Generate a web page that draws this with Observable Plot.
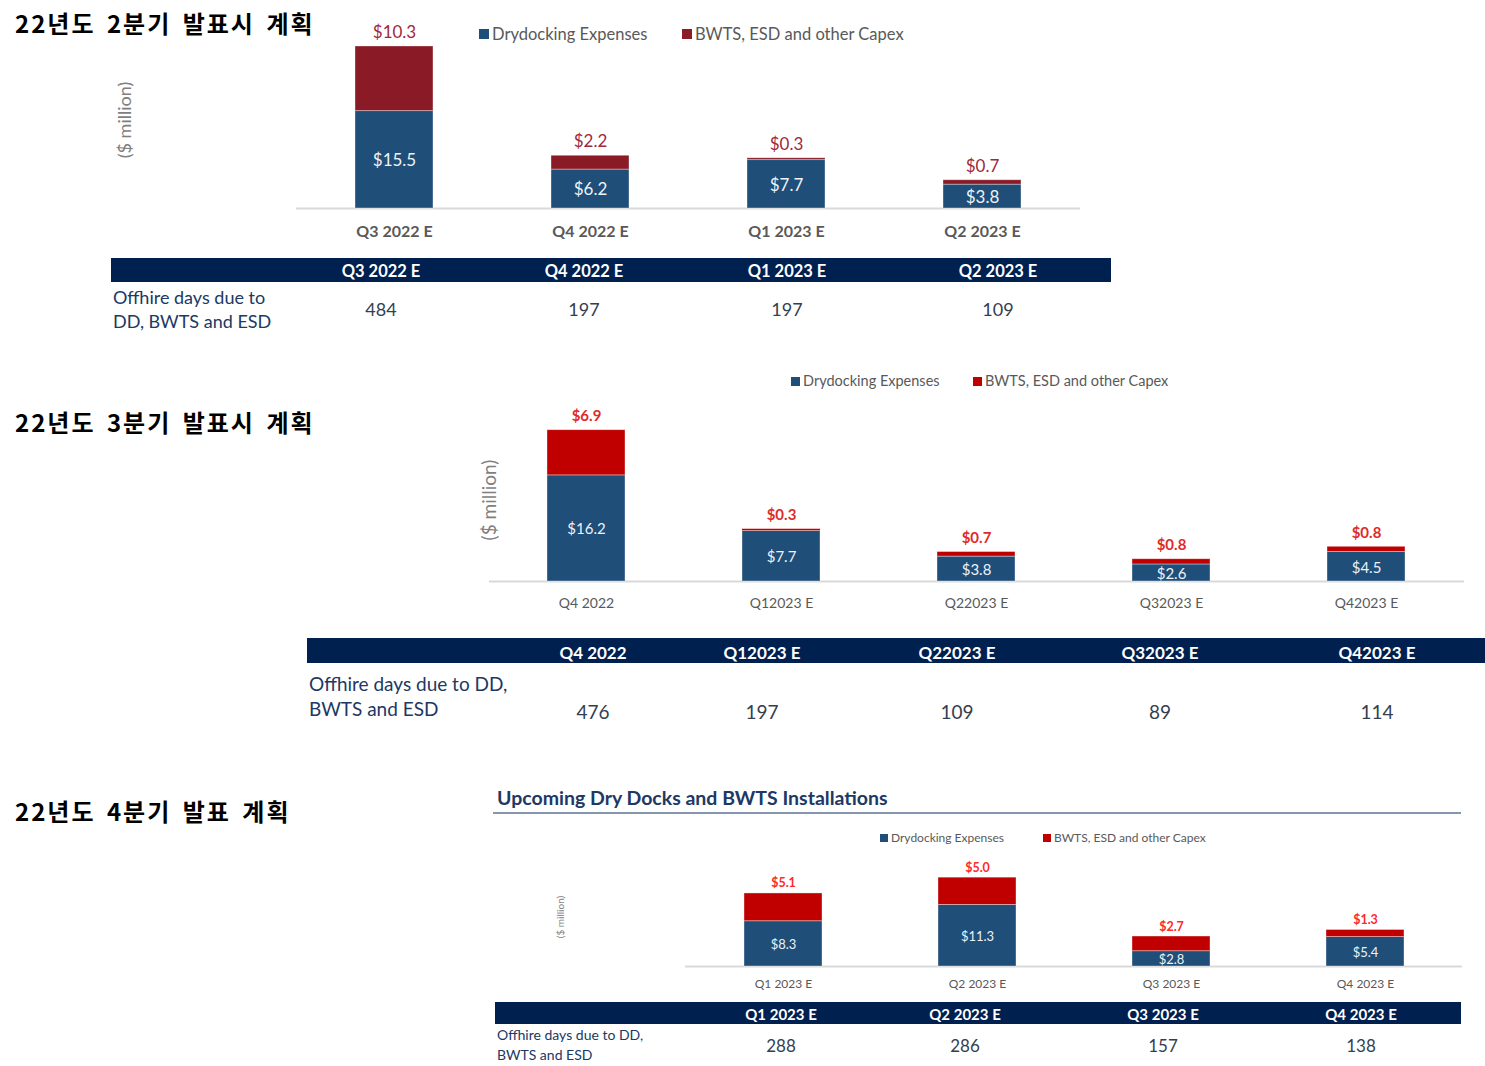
<!DOCTYPE html>
<html>
<head>
<meta charset="utf-8">
<script src="https://cdn.jsdelivr.net/npm/d3@7"></script>
<script src="https://cdn.jsdelivr.net/npm/@observablehq/plot@0.6"></script>
<style>
  html, body { margin: 0; padding: 0; background: #fff; }
  #root { position: relative; width: 1485px; height: 1066px; overflow: hidden; font-family: Lato, "Open Sans", sans-serif; }
  .abs { position: absolute; white-space: nowrap; line-height: 1; }
  .title { font-family: "Noto Sans CJK KR", sans-serif; font-weight: 700; color: #000; letter-spacing: 2px; word-spacing: 4px; }
</style>
</head>
<body>
<div id="root"></div>
<script>
// ---------- DATA ----------
// Q2 2022 presentation
const cats1 = ["Q3 2022 E", "Q4 2022 E", "Q1 2023 E", "Q2 2023 E"];
const dd1 = [15.5, 6.2, 7.7, 3.8];
const capex1 = [10.3, 2.2, 0.3, 0.7];
const offhire1 = [484, 197, 197, 109];

// Q3 2022 presentation
const cats2 = ["Q4 2022", "Q12023 E", "Q22023 E", "Q32023 E", "Q42023 E"];
const dd2 = [16.2, 7.7, 3.8, 2.6, 4.5];
const capex2 = [6.9, 0.3, 0.7, 0.8, 0.8];
const offhire2 = [476, 197, 109, 89, 114];

// Q4 2022 presentation
const cats3 = ["Q1 2023 E", "Q2 2023 E", "Q3 2023 E", "Q4 2023 E"];
const dd3 = [8.3, 11.3, 2.8, 5.4];
const capex3 = [5.1, 5.0, 2.7, 1.3];
const offhire3 = [288, 286, 157, 138];

const titles = ["22년도 2분기 발표시 계획", "22년도 3분기 발표시 계획", "22년도 4분기 발표 계획"];
const seriesNames = ["Drydocking Expenses", "BWTS, ESD and other Capex"];
const rowLabel1 = ["Offhire days due to", "DD, BWTS and ESD"];
const rowLabel23 = ["Offhire days due to DD,", "BWTS and ESD"];
const unitLabel = "($ million)";
const chart3Title = "Upcoming Dry Docks and BWTS Installations";

// ---------- HELPERS ----------
const root = document.getElementById("root");
function place(text, x, y, style = {}, anchor = "start") {
  const el = document.createElement("div");
  el.className = "abs";
  el.textContent = text;
  el.style.left = x + "px";
  el.style.top = y + "px";
  const tx = anchor === "middle" ? "-50%" : anchor === "end" ? "-100%" : "0";
  el.style.transform = `translate(${tx}, -50%)` + (style.rotate ? " rotate(-90deg)" : "");
  delete style.rotate;
  Object.assign(el.style, style);
  root.appendChild(el);
  return el;
}
function box(x, y, w, h, color) {
  const el = document.createElement("div");
  el.style.cssText = `position:absolute;left:${x}px;top:${y}px;width:${w}px;height:${h}px;background:${color}`;
  root.appendChild(el);
}
function legend(x, y, sq, x2, colors, fontSize) {
  box(x, y - sq / 2, sq, sq, colors[0]);
  place(seriesNames[0], x + sq + 3, y, {fontSize: fontSize + "px", color: "#595959"});
  box(x2, y - sq / 2, sq, sq, colors[1]);
  place(seriesNames[1], x2 + sq + 3, y, {fontSize: fontSize + "px", color: "#595959"});
}

function chart(o) {
  const rows = [];
  o.cats.forEach((c, i) => {
    rows.push({q: c, s: "dd", v: o.dd[i]});
    rows.push({q: c, s: "cx", v: o.cx[i]});
  });
  const tot = o.cats.map((c, i) => ({q: c, dd: o.dd[i], cx: o.cx[i], t: o.dd[i] + o.cx[i]}));
  const maxV = d3.max(tot, d => d.t);
  const svg = Plot.plot({
    width: o.width, height: o.height, margin: 0,
    style: {fontFamily: "Lato, 'Open Sans', sans-serif", overflow: "visible", background: "transparent"},
    x: {domain: o.cats, range: [0, o.width], paddingInner: 0.6, paddingOuter: 0.3, axis: null},
    y: {domain: [0, maxV], range: [o.base, o.base - maxV * o.ppu], axis: null},
    color: {domain: ["dd", "cx"], range: o.colors},
    marks: [
      Plot.ruleY([0], {stroke: "#d9d9d9", strokeWidth: 2}),
      Plot.barY(rows, {x: "q", y: "v", fill: "s", stroke: "#ffffff", strokeWidth: 0.8, strokeOpacity: 0.45}),
      Plot.text(tot, {x: "q", y: d => d.dd / 2, dy: 1, text: d => "$" + d.dd.toFixed(1), fill: "#eef2f6", fontSize: o.inFont}),
      Plot.text(tot, {x: "q", y: "t", dy: o.topDy, text: d => "$" + d.cx.toFixed(1), fill: o.labelColor, fontSize: o.topFont, fontWeight: o.topWeight}),
      Plot.text(o.cats, {x: d => d, y: () => 0, dy: o.axisDy, text: d => d, fill: "#595959", fontSize: o.axisFont, fontWeight: o.axisWeight})
    ]
  });
  svg.style.position = "absolute";
  svg.style.left = o.left + "px";
  svg.style.top = o.top + "px";
  root.appendChild(svg);
}

function table(o) {
  box(o.x, o.y, o.w, o.h, "#002050");
  o.cats.forEach((c, i) => {
    place(c, o.cols[i], o.y + o.h / 2 + 1, {fontSize: o.headFont + "px", fontWeight: 700, color: "#ffffff"}, "middle");
    place(String(o.vals[i]), o.cols[i], o.valY, {fontSize: o.valFont + "px", color: "#333f50"}, "middle");
  });
  o.label.forEach((t, i) => place(t, o.x + 2, o.labelY[i], {fontSize: o.labelFont + "px", color: "#203864"}));
}

// ---------- SECTION 1 ----------
place(titles[0], 15, 23, {fontSize: "24px"}).classList.add("title");
place(unitLabel, 124, 120, {fontSize: "18px", color: "#7f7f7f", rotate: true}, "middle");
legend(479, 34, 10, 682, ["#1f4e79", "#8a1a26"], 16.5);
chart({cats: cats1, dd: dd1, cx: capex1, left: 296, top: 0, width: 784, height: 250, base: 208, ppu: 6.28,
  colors: ["#1f4e79", "#8a1a26"], labelColor: "#a0283a", inFont: 17, topFont: 17, topWeight: 400, topDy: -14,
  axisFont: 16, axisWeight: 700, axisDy: 23});
table({x: 111, y: 258, w: 1000, h: 24, cats: cats1, vals: offhire1, cols: [381, 584, 787, 998],
  headFont: 16.5, valFont: 18, valY: 309, label: rowLabel1, labelY: [297, 321], labelFont: 18});

// ---------- SECTION 2 ----------
place(titles[1], 15, 422, {fontSize: "24px"}).classList.add("title");
place(unitLabel, 488, 500, {fontSize: "19px", color: "#7f7f7f", rotate: true}, "middle");
legend(791, 381, 9, 973, ["#1f4e79", "#c00000"], 14.5);
chart({cats: cats2, dd: dd2, cx: capex2, left: 489, top: 395, width: 975, height: 225, base: 186, ppu: 6.55,
  colors: ["#1f4e79", "#c00000"], labelColor: "#e02a2a", inFont: 15, topFont: 15, topWeight: 700, topDy: -14,
  axisFont: 14, axisWeight: 400, axisDy: 22});
table({x: 307, y: 638, w: 1178, h: 25, cats: cats2, vals: offhire2, cols: [593, 762, 957, 1160, 1377],
  headFont: 17, valFont: 19, valY: 711, label: rowLabel23, labelY: [683, 708], labelFont: 19});

// ---------- SECTION 3 ----------
place(titles[2], 15, 811, {fontSize: "24px"}).classList.add("title");
place(chart3Title, 497, 798, {fontSize: "19.5px", fontWeight: 700, color: "#203864"});
box(493, 812, 968, 2, "#8496b0");
place(unitLabel, 560, 917, {fontSize: "10px", color: "#7f7f7f", rotate: true}, "middle");
legend(880, 838, 8, 1043, ["#1f4e79", "#c00000"], 12);
chart({cats: cats3, dd: dd3, cx: capex3, left: 685, top: 855, width: 777, height: 140, base: 111, ppu: 5.45,
  colors: ["#1f4e79", "#c00000"], labelColor: "#ff2a2a", inFont: 13, topFont: 12.5, topWeight: 700, topDy: -10,
  axisFont: 12, axisWeight: 400, axisDy: 18});
table({x: 495, y: 1002, w: 966, h: 22, cats: cats3, vals: offhire3, cols: [781, 965, 1163, 1361],
  headFont: 15, valFont: 17, valY: 1045, label: rowLabel23, labelY: [1035, 1055], labelFont: 14});
</script>
</body>
</html>
